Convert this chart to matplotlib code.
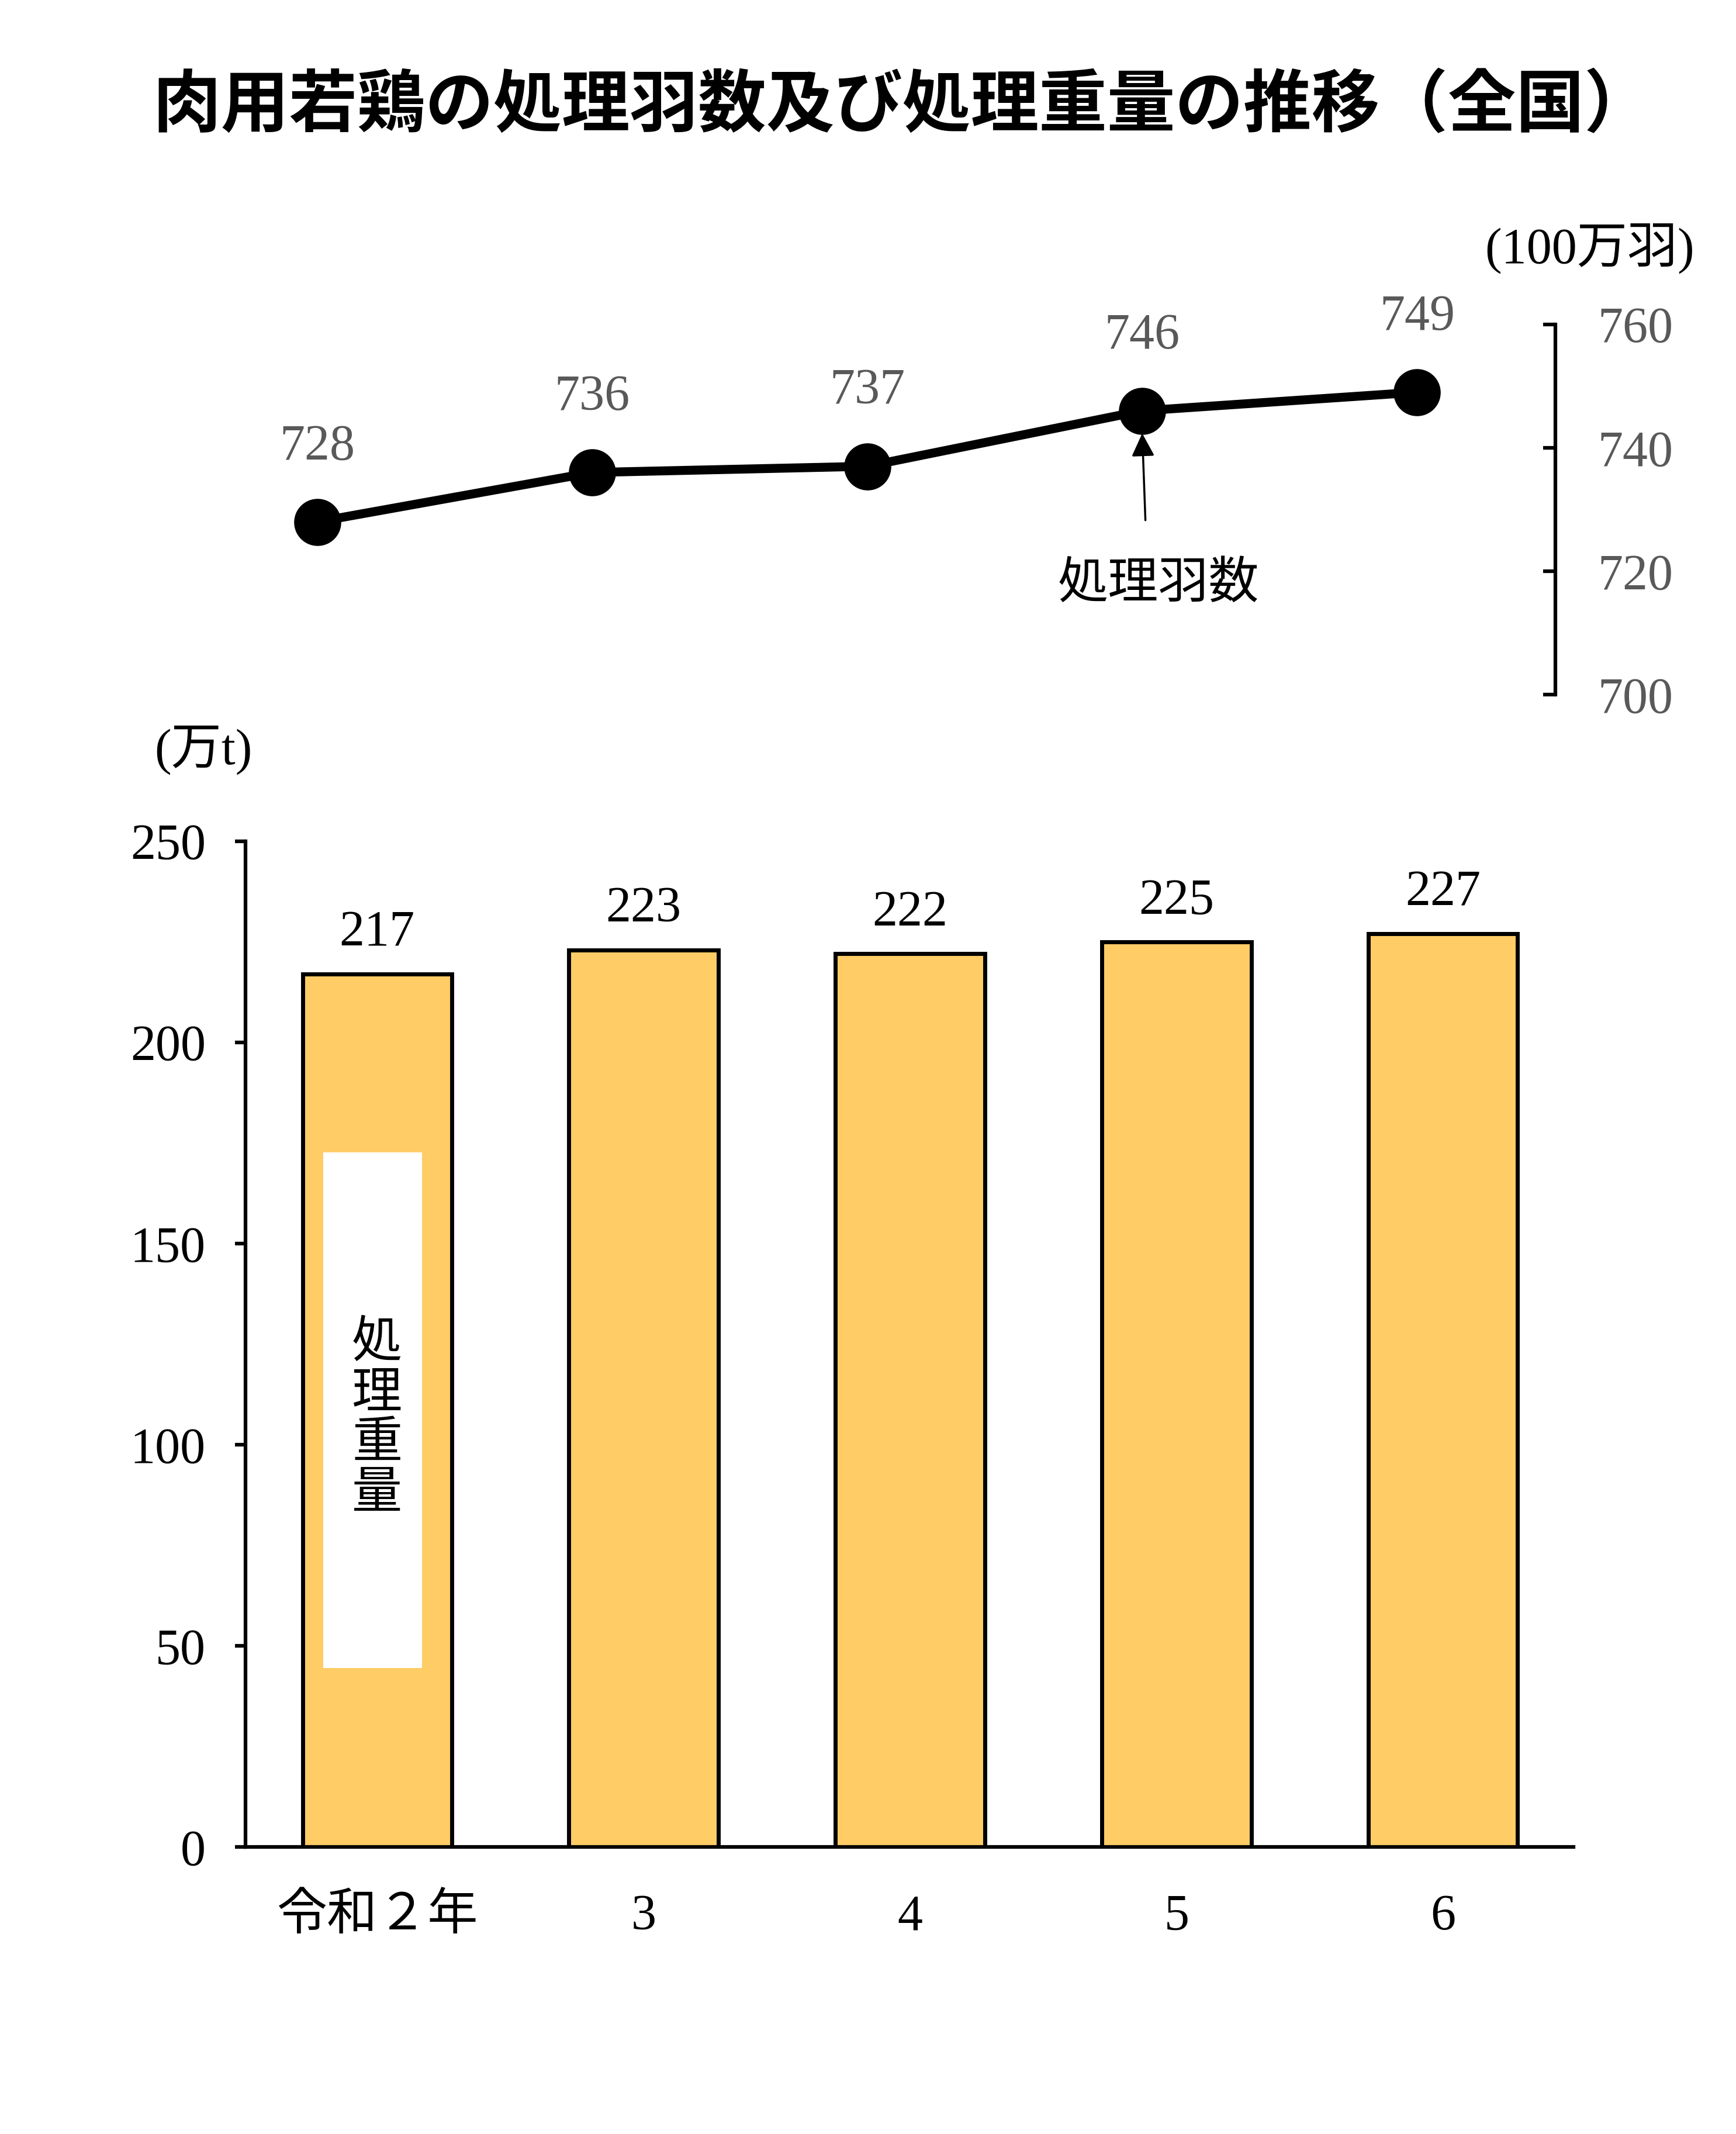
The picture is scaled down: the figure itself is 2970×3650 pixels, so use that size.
import matplotlib
matplotlib.use("Agg")
import matplotlib.pyplot as plt
from matplotlib.patches import Rectangle

plt.rcParams["font.family"] = ["Liberation Serif", "Noto Sans CJK JP"]

# ---- data ----
years = ["令和２年", "3", "4", "5", "6"]
heads = [728, 736, 737, 746, 749]          # 処理羽数 (100万羽)
weight = [217, 223, 222, 225, 227]         # 処理重量 (万t)

BAR_C = "#FFCC66"
GRAY = "#595959"
FS = 62

fig = plt.figure(figsize=(29.7, 36.5), dpi=100)

fig.text(0.520, 0.950, "肉用若鶏の処理羽数及び処理重量の推移（全国）",
         ha="center", va="center", fontsize=84, weight="bold",
         family=["Noto Sans CJK JP"])

# ---- top: line chart (処理羽数) ----
ax1 = fig.add_axes([0.1414, 0.6745, 0.7546, 0.1735])
xs = list(range(len(heads)))
ax1.plot(xs, heads, color="black", lw=11, marker="o", ms=57,
         solid_capstyle="round", clip_on=False, zorder=3)
for x, v in zip(xs, heads):
    ax1.annotate(f"{v}", (x, v), xytext=(0, 92), textcoords="offset points",
                 ha="center", va="center", fontsize=FS, color=GRAY)
ax1.set_xlim(-0.261, 4.503)
ax1.set_ylim(700, 760)
ax1.set_yticks([700, 720, 740, 760])
ax1.yaxis.tick_right()
ax1.tick_params(axis="y", direction="in", length=15, width=4.5, pad=52,
                labelsize=FS, labelcolor=GRAY)
ax1.set_xticks([])
for s in ["left", "top", "bottom"]:
    ax1.spines[s].set_visible(False)
ax1.spines["right"].set_linewidth(4.5)
ax1.patch.set_alpha(0)

# arrow label for line
ax1.annotate("", xy=(xs[3], heads[3] - 3.4), xytext=(xs[3] + 0.012, 728),
             arrowprops=dict(arrowstyle="-|>", color="black", lw=2.5,
                             mutation_scale=60))
ax1.text(xs[3] + 0.06, 717.6, "処理羽数", ha="center", va="center", fontsize=FS)

fig.text(0.9156, 0.8836, "(100万羽)", ha="center", va="center", fontsize=FS)

# ---- bottom: bar chart (処理重量) ----
ax2 = fig.add_axes([0.1414, 0.1345, 0.7649, 0.4713])
bx = list(range(len(weight)))
ax2.bar(bx, weight, width=0.56, color=BAR_C, edgecolor="black", linewidth=5,
        zorder=2)
for x, v in zip(bx, weight):
    ax2.annotate(f"{v}", (x, v), xytext=(0, 50), textcoords="offset points",
                 ha="center", va="center", fontsize=FS)
ax2.set_xlim(-0.494, 4.489)
ax2.set_ylim(0, 250)
ax2.set_yticks([0, 50, 100, 150, 200, 250])
ax2.set_xticks(bx)
ax2.set_xticklabels(years)
ax2.tick_params(axis="y", direction="out", length=13, width=4.5, pad=36,
                labelsize=FS)
ax2.tick_params(axis="x", length=0, pad=58, labelsize=FS)
for s in ["top", "right"]:
    ax2.spines[s].set_visible(False)
for s in ["left", "bottom"]:
    ax2.spines[s].set_linewidth(4.5)

# white label box inside first bar
ax2.add_patch(Rectangle((-0.203, 44.5), 0.371, 128.2, facecolor="white",
                        edgecolor="none", zorder=3))
ax2.text(0.0, 106, "処\n理\n重\n量", ha="center", va="center", fontsize=FS,
         linespacing=1.1, zorder=4)

fig.text(0.117, 0.6485, "(万t)", ha="center", va="center", fontsize=FS)

fig.savefig("out.png", dpi=100)
plt.close(fig)
